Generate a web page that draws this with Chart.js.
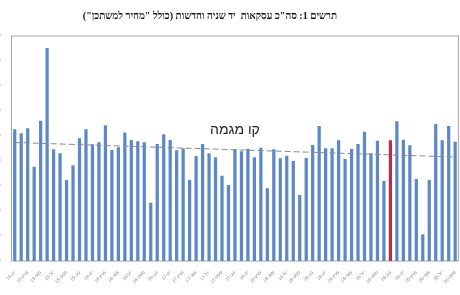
<!DOCTYPE html>
<html>
<head>
<meta charset="utf-8">
<script src="https://cdn.jsdelivr.net/npm/chart.js@4"></script>
<style>
  html, body { margin: 0; padding: 0; background: #fff; }
  #wrap { width: 460px; height: 295px; }
</style>
</head>
<body>
<div id="wrap"><canvas id="dealsChart" width="460" height="295"></canvas></div>
<script>
// Monthly deals, Jan 2015 - Sep 2020
const monthNames = ['ינו', 'פבר', 'מרץ', 'אפר', 'מאי', 'יונ', 'יול', 'אוג', 'ספט', 'אוק', 'נוב', 'דצמ'];
const years = ['15', '16', '17', '18', '19', '20'];

const deals = [
    10540, 10220, 10620, 7540, 11220, 17040, 8940, 8620, 6480, 7660, 9820, 10540,
    9340, 9500, 10860, 8880, 9100, 10280, 9680, 9580, 9500, 4660, 9360, 10140,
    9680, 8860, 9020, 6480, 8400, 9360, 8620, 8300, 6820, 6080, 8940, 8780,
    8980, 8300, 9060, 5820, 8940, 8220, 8420, 8000, 5280, 8240, 9280, 10800,
    9020, 9020, 9660, 8160, 8960, 9360, 10340, 8620, 9620, 6400, 9660, 11180,
    9700, 9260, 6560, 2140, 6480, 10960, 9660, 10800, 9540
];
const highlightIndex = 58;

// trend line end points
const trendValues = [9480, 8320];

const yTicks = [0, 2000, 4000, 6000, 8000, 10000, 12000, 14000, 16000, 18000];

const labels = [];
years.forEach(y => monthNames.forEach(m => labels.push(m + '-' + y)));
labels.length = deals.length;

const colors = {
    bar: '#5d88c7',
    highlight: '#b2304c',
    trend: '#8c8c8c',
    frame: '#a6a6a6',
    tick: '#7f7f7f'
};

// frame, title and trend label
const decor = {
    id: 'decor',
    beforeDatasetsDraw(chart) {
        const { ctx, chartArea: a } = chart;
        ctx.save();
        ctx.strokeStyle = colors.frame;
        ctx.lineWidth = 1;
        ctx.strokeRect(a.left, a.top, a.right - a.left, a.bottom - a.top);
        ctx.restore();
    },
    afterDraw(chart) {
        const { ctx, scales } = chart;
        ctx.save();
        ctx.direction = 'rtl';
        ctx.textAlign = 'center';
        ctx.textBaseline = 'middle';
        ctx.fillStyle = '#111';
        ctx.font = 'bold 10px "Liberation Serif", serif';
        ctx.fillText('תרשים 1: סה"כ עסקאות  יד שניה וחדשות (כולל "מחיר למשתכן")', 210, 16);
        ctx.font = '14px "Liberation Sans", Arial, sans-serif';
        ctx.fillStyle = '#222';
        ctx.fillText('קו מגמה', scales.x.getPixelForValue(34), scales.y.getPixelForValue(10450));
        ctx.restore();
    }
};

new Chart(document.getElementById('dealsChart').getContext('2d'), {
    type: 'bar',
    data: {
        labels: labels,
        datasets: [
            {
                type: 'line',
                label: 'קו מגמה',
                data: [
                    { x: labels[0], y: trendValues[0] },
                    { x: labels[labels.length - 1], y: trendValues[1] }
                ],
                borderColor: colors.trend,
                borderWidth: 1,
                borderDash: [6, 3],
                pointRadius: 0,
                fill: false,
                order: 0
            },
            {
                label: 'עסקאות',
                data: deals,
                backgroundColor: (c) => c.dataIndex === highlightIndex ? colors.highlight : colors.bar,
                borderWidth: 0,
                categoryPercentage: 1,
                barPercentage: 0.5,
                order: 1
            }
        ]
    },
    options: {
        responsive: false,
        animation: false,
        layout: { padding: { top: 36, right: 1, left: 0, bottom: 0 } },
        scales: {
            x: {
                grid: { display: false },
                border: { display: false },
                afterFit: (s) => { s.height = 34; },
                ticks: {
                    autoSkip: false,
                    minRotation: 45,
                    maxRotation: 45,
                    padding: 1,
                    color: colors.tick,
                    font: { size: 4.5, family: 'Liberation Sans' },
                    callback: function(value, index) {
                        return index % 2 === 0 ? this.getLabelForValue(value) : '';
                    }
                }
            },
            y: {
                min: 0,
                max: 18000,
                grid: { display: false },
                border: { display: false },
                afterFit: (s) => { s.width = 11.5; },
                afterBuildTicks: (s) => { s.ticks = yTicks.map(v => ({ value: v })); },
                ticks: {
                    padding: 3,
                    color: colors.tick,
                    font: { size: 4.5, family: 'Liberation Sans' },
                    callback: (v) => v.toLocaleString('en-US')
                }
            }
        },
        plugins: {
            legend: { display: false },
            tooltip: { enabled: false }
        }
    },
    plugins: [decor]
});
</script>
</body>
</html>
